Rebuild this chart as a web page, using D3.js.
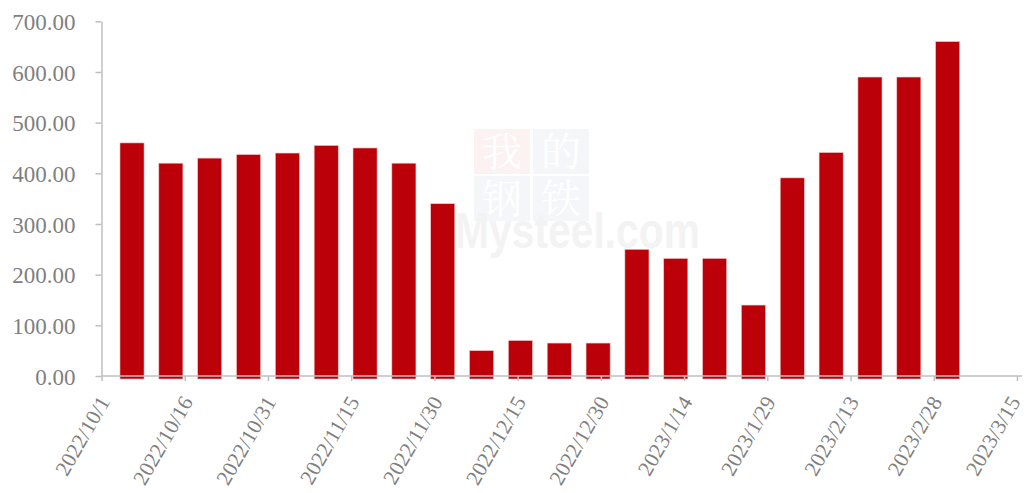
<!DOCTYPE html>
<html>
<head>
<meta charset="utf-8">
<script src="https://cdn.jsdelivr.net/npm/d3@7"></script>
<style>
  html, body { margin: 0; padding: 0; background: #fff; }
  svg { display: block; }
  .axis text { font-family: "Liberation Serif", "Times New Roman", serif; fill: #7f7f7f; }
  .axis path, .axis line { stroke: #bfbfbf; stroke-width: 1.5; }
</style>
</head>
<body>
<div id="chart"></div>
<script>
// weekly values (Thursday dates)
const barDates = ["2022-10-06", "2022-10-13", "2022-10-20", "2022-10-27", "2022-11-03", "2022-11-10",
  "2022-11-17", "2022-11-24", "2022-12-01", "2022-12-08", "2022-12-15", "2022-12-22", "2022-12-29",
  "2023-01-05", "2023-01-12", "2023-01-19", "2023-01-26", "2023-02-02", "2023-02-09", "2023-02-16",
  "2023-02-23", "2023-03-02"];
const barValues = [460, 420, 430, 437, 440, 455, 450, 420, 340, 50, 70, 65, 65,
  250, 232, 232, 140, 391, 441, 590, 590, 660];
const xTickDates = ["2022-10-01", "2022-10-16", "2022-10-31", "2022-11-15", "2022-11-30", "2022-12-15",
  "2022-12-30", "2023-01-14", "2023-01-29", "2023-02-13", "2023-02-28", "2023-03-15"];
const yTicks = [0, 100, 200, 300, 400, 500, 600, 700];

const width = 1028, height = 493;
const margin = { top: 21, right: 11, bottom: 117, left: 101.5 };
const parse = d3.timeParse("%Y-%m-%d");
const fmtTick = d3.timeFormat("%Y/%-m/%-d");

const svg = d3.select("#chart").append("svg")
  .attr("width", width).attr("height", height);

// watermark
const wm = svg.append("g").attr("class", "watermark");
const cells = [
  { ch: "我", col: 0, row: 0, bg: "#fdf2f2" },
  { ch: "的", col: 1, row: 0, bg: "#f4f6fa" },
  { ch: "钢", col: 0, row: 1, bg: "#f4f6fa" },
  { ch: "铁", col: 1, row: 1, bg: "#f4f6fa" }
];
wm.selectAll("rect").data(cells).join("rect")
  .attr("x", d => 474 + d.col * 59).attr("y", d => 129 + d.row * 47)
  .attr("width", 56).attr("height", 45).attr("fill", d => d.bg);
wm.selectAll("text.ch").data(cells).join("text").attr("class", "ch")
  .attr("x", d => 502 + d.col * 59).attr("y", d => 166 + d.row * 47)
  .attr("text-anchor", "middle")
  .style("font-family", "'Noto Serif CJK SC', 'Noto Sans CJK SC', serif")
  .style("font-size", "40px").style("fill", "#fff")
  .text(d => d.ch);
wm.append("text")
  .attr("x", 455).attr("y", 248)
  .attr("textLength", 245).attr("lengthAdjust", "spacingAndGlyphs")
  .style("font-family", "'Liberation Sans', Arial, sans-serif")
  .style("font-weight", "bold").style("font-size", "50px").style("fill", "#f3f3f3")
  .text("Mysteel.com");

const x = d3.scaleTime()
  .domain([parse(xTickDates[0]), parse(xTickDates[xTickDates.length - 1])])
  .range([margin.left, width - margin.right]);
const y = d3.scaleLinear()
  .domain([0, 700])
  .range([height - margin.bottom, margin.top + 0.3]);

const dayW = x(parse("2022-10-02")) - x(parse("2022-10-01"));
const barW = dayW * 7 * 0.62;

const data = barDates.map((d, i) => ({ date: parse(d), value: barValues[i] }));

// bars
svg.append("g").selectAll("rect").data(data).join("rect")
  .attr("x", d => x(d3.timeHour.offset(d.date, 12)) - barW / 2)
  .attr("y", d => y(d.value))
  .attr("width", barW)
  .attr("height", d => y(0) - y(d.value) + 3)
  .attr("fill", "#bb0009")
  .attr("stroke", "#f0c4c6").attr("stroke-width", 0.6);

// y axis
const yAxis = svg.append("g").attr("class", "axis")
  .attr("transform", `translate(${margin.left},0)`)
  .call(d3.axisLeft(y).tickValues(yTicks).tickFormat(d3.format(".2f"))
    .tickSize(6).tickSizeOuter(0).tickPadding(20));
yAxis.selectAll("text").style("font-size", "23px").attr("dy", "0.35em");

// x axis
const xAxis = svg.append("g").attr("class", "axis")
  .attr("transform", `translate(0,${y(0)})`)
  .call(d3.axisBottom(x).tickValues(xTickDates.map(parse)).tickFormat(fmtTick)
    .tickSize(5).tickSizeOuter(0));
xAxis.select(".domain").attr("d", `M${margin.left},0H${width - margin.right + 5}`);
const nTicks = xTickDates.length;
xAxis.selectAll("text")
  .style("font-size", "21.5px")
  .attr("text-anchor", "end")
  .attr("dy", "0.35em")
  // last label is nudged left so it stays inside the frame
  .attr("transform", (d, i) => `translate(${i === nTicks - 1 ? -3 : 2},22) rotate(-60)`)
  .attr("y", 0).attr("x", 0);
</script>
</body>
</html>
